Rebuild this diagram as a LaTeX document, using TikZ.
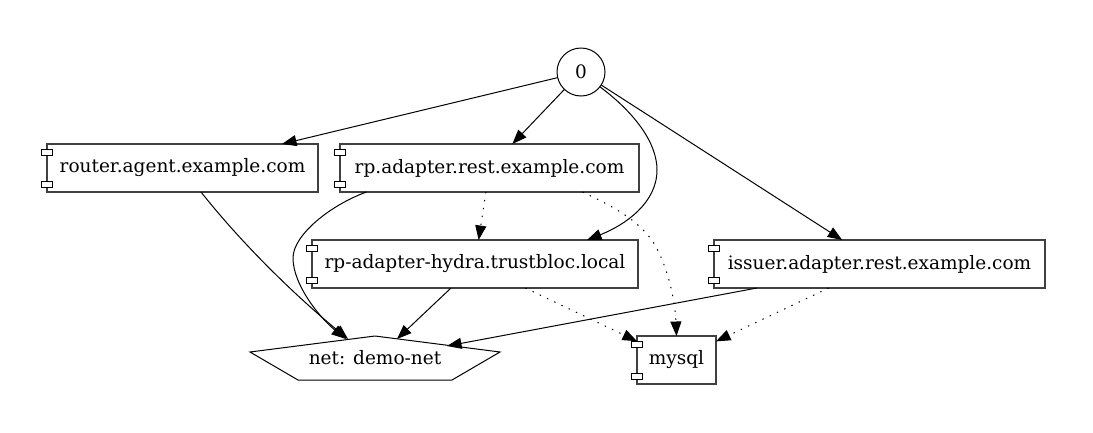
\documentclass[tikz,border=0pt]{standalone}
\usepackage{fontspec}
\setmainfont{DejaVu Serif}
\usetikzlibrary{arrows.meta}
\tikzset{
  comp/.style={rectangle, draw=black!75, line width=1.2pt, fill=white, minimum height=48pt},
  dep/.style={dash pattern=on 1.4pt off 6.6pt}
}
\begin{document}
\begin{tikzpicture}[x=1pt, y=-1pt, >={Triangle[length=14.5pt, width=11pt]},
                node distance=96pt, line width=1pt,
                every node/.style={inner sep=0pt, outer sep=0pt, font=\fontsize{18.5}{22}\selectfont}]
                \useasboundingbox (0,0) rectangle (1093,432);

                \node (top) [circle, draw, minimum size=48pt] at (581,72) {0};
                \node (router) [comp, below of=top, xshift=-398.5pt, minimum width=271pt] {router.agent.example.com};
                \node (rpa) [comp, below of=top, xshift=-91.5pt, minimum width=299pt] {rp.adapter.rest.example.com};
                \node (hydra) [comp, below of=rpa, xshift=-14.5pt, minimum width=326pt] {rp-adapter-hydra.trustbloc.local};
                \node (issuer) [comp, right of=hydra, node distance=404.5pt, minimum width=331pt] {issuer.adapter.rest.example.com};
                \node (net) [below of=hydra, xshift=-100pt, yshift=2pt, minimum width=250pt, minimum height=44pt] {net: demo-net};
                \node (mysql) [comp, below of=hydra, xshift=201.5pt, minimum width=79pt] {mysql};

                % net outline
                \draw ([yshift=6pt]net.west) -- (net.north)
                    -- ([yshift=6pt]net.east) -- ([xshift=-48pt]net.south east)
                    -- ([xshift=48pt]net.south west) -- cycle;

                % tabs on the component boxes
                \foreach \comp in {router,rpa,hydra,issuer,mysql} {
                    \draw[fill=white] ([shift={(-5.5pt,-5pt)}]\comp.north west) rectangle ++(11,6);
                    \draw[fill=white] ([shift={(-5.5pt,5pt)}]\comp.south west) rectangle ++(11,-6);
                }

                \path[->]
                    (top) edge (router)
                    (top) edge (rpa)
                    (top) edge (issuer)
                    ([xshift=-24pt]hydra.south) edge ([shift={(22pt,-3pt)}]net.north) % hydra to net
                    ([xshift=-122.5pt]issuer.south) edge ([shift={(72pt,-10pt)}]net.north); % issuer to net

                \path[->, dep]
                    (rpa) edge (hydra)
                    (hydra) edge (mysql)
                    (issuer) edge (mysql);

                % curved ones
                \draw[->] ([xshift=18.5pt]router.south) .. controls +(34,43) and (285,287) .. ([shift={(-27pt,-3pt)}]net.north);
                \draw[->] ([xshift=-123pt]rpa.south) .. controls +(-36,13) and (293,235) .. (293,258)
                    .. controls (293,285) and (320,318) .. ([shift={(-29pt,-3pt)}]net.north);
                \draw[->] (top.-38) .. controls (635,113) and (657,143) .. (657,170)
                    .. controls (657,203) and (625,225) .. ([xshift=112pt]hydra.north);
                \draw[->, dep] ([xshift=93pt]rpa.south) .. controls (610,205) and (640,220) .. (655,245)
                    .. controls (668,268) and (675,300) .. (mysql.north);

                \end{tikzpicture}
\end{document}
